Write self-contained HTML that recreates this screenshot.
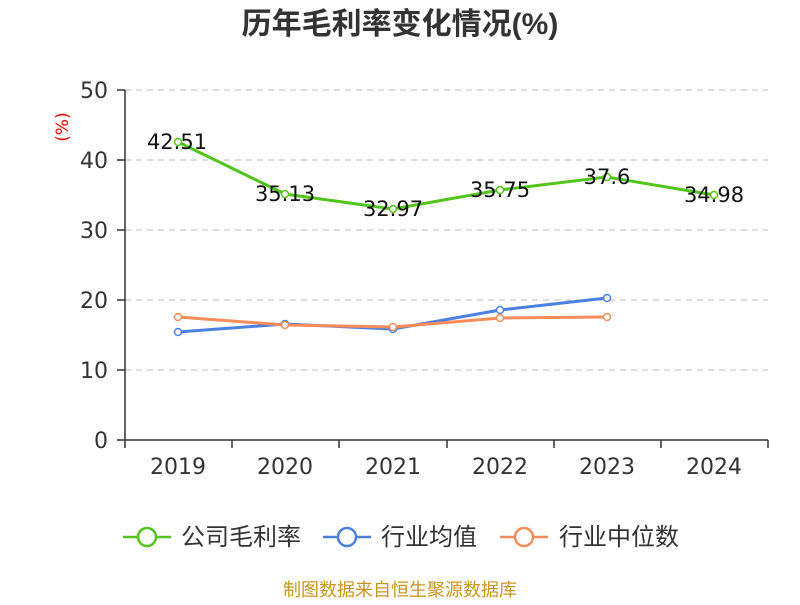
<!DOCTYPE html>
<html><head><meta charset="utf-8"><style>
body{margin:0;background:#fff}
svg text{font-family:"DejaVu Sans","Noto Sans CJK SC",sans-serif}
.cjk{font-family:"Liberation Sans","Noto Sans CJK SC",sans-serif}
</style></head><body>
<svg width="800" height="600" xmlns="http://www.w3.org/2000/svg">
<rect width="800" height="600" fill="#fff"/>
<text class="cjk" x="400" y="34" text-anchor="middle" font-size="30" font-weight="bold" fill="#333">历年毛利率变化情况(%)</text>
<g stroke="#bbb" stroke-dasharray="6,5" stroke-width="1">
<line x1="125" y1="90" x2="768" y2="90"/><line x1="125" y1="160" x2="768" y2="160"/>
<line x1="125" y1="230" x2="768" y2="230"/><line x1="125" y1="300" x2="768" y2="300"/>
<line x1="125" y1="370" x2="768" y2="370"/>
</g>
<g stroke="#333" stroke-width="1.5">
<line x1="125" y1="90" x2="125" y2="440"/>
<line x1="125" y1="440" x2="768" y2="440"/>
<line x1="117" y1="90" x2="125" y2="90"/><line x1="117" y1="160" x2="125" y2="160"/>
<line x1="117" y1="230" x2="125" y2="230"/><line x1="117" y1="300" x2="125" y2="300"/>
<line x1="117" y1="370" x2="125" y2="370"/><line x1="117" y1="440" x2="125" y2="440"/>
<line x1="125" y1="440" x2="125" y2="448"/><line x1="232" y1="440" x2="232" y2="448"/>
<line x1="339" y1="440" x2="339" y2="448"/><line x1="447" y1="440" x2="447" y2="448"/>
<line x1="554" y1="440" x2="554" y2="448"/><line x1="661" y1="440" x2="661" y2="448"/>
<line x1="768" y1="440" x2="768" y2="448"/>
</g>
<g font-size="22" fill="#333" text-anchor="end">
<text x="108" y="98">50</text><text x="108" y="168">40</text><text x="108" y="238">30</text>
<text x="108" y="308">20</text><text x="108" y="378">10</text><text x="108" y="448">0</text>
</g>
<g font-size="22" fill="#333" text-anchor="middle">
<text x="178" y="474">2019</text><text x="285" y="474">2020</text><text x="393" y="474">2021</text>
<text x="500" y="474">2022</text><text x="607" y="474">2023</text><text x="714" y="474">2024</text>
</g>
<text x="68" y="127" font-size="17" fill="#e00" text-anchor="middle" transform="rotate(-90 68 127)">(%)</text>
<polyline fill="none" stroke="#4a80e0" stroke-width="3" points="178,332 285,324 393,329 500,310 607,298"/>
<polyline fill="none" stroke="#f88c5a" stroke-width="3" points="178,317 285,325 393,327 500,318 607,317"/>
<polyline fill="none" stroke="#52c41a" stroke-width="3" points="178,142 285,194 393,209 500,190 607,177 714,195"/>
<g fill="#fff" stroke-width="1.5">
<g stroke="#4a80e0"><circle cx="178" cy="332" r="3.5"/><circle cx="285" cy="324" r="3.5"/><circle cx="393" cy="329" r="3.5"/><circle cx="500" cy="310" r="3.5"/><circle cx="607" cy="298" r="3.5"/></g>
<g stroke="#f88c5a"><circle cx="178" cy="317" r="3.5"/><circle cx="285" cy="325" r="3.5"/><circle cx="393" cy="327" r="3.5"/><circle cx="500" cy="318" r="3.5"/><circle cx="607" cy="317" r="3.5"/></g>
<g stroke="#52c41a"><circle cx="178" cy="142" r="3.5"/><circle cx="285" cy="194" r="3.5"/><circle cx="393" cy="209" r="3.5"/><circle cx="500" cy="190" r="3.5"/><circle cx="607" cy="177" r="3.5"/><circle cx="714" cy="195" r="3.5"/></g>
</g>
<g font-size="21" fill="#111" text-anchor="middle">
<text x="177" y="149">42.51</text><text x="285" y="201">35.13</text><text x="393" y="216">32.97</text>
<text x="500" y="197">35.75</text><text x="607" y="184">37.6</text><text x="714" y="202">34.98</text>
</g>
<g stroke-width="2.5" fill="#fff">
<line x1="123" y1="537" x2="171" y2="537" stroke="#52c41a"/><circle cx="147" cy="537" r="9" stroke="#52c41a"/>
<line x1="323" y1="537" x2="371" y2="537" stroke="#4a80e0"/><circle cx="347" cy="537" r="9" stroke="#4a80e0"/>
<line x1="500" y1="537" x2="548" y2="537" stroke="#f88c5a"/><circle cx="524" cy="537" r="9" stroke="#f88c5a"/>
</g>
<g class="cjk" font-size="24" fill="#333">
<text class="cjk" x="181" y="545">公司毛利率</text><text class="cjk" x="381" y="545">行业均值</text><text class="cjk" x="559" y="545">行业中位数</text>
</g>
<text class="cjk" x="400" y="596" font-size="18" fill="#c8961e" text-anchor="middle">制图数据来自恒生聚源数据库</text>
</svg>
</body></html>
